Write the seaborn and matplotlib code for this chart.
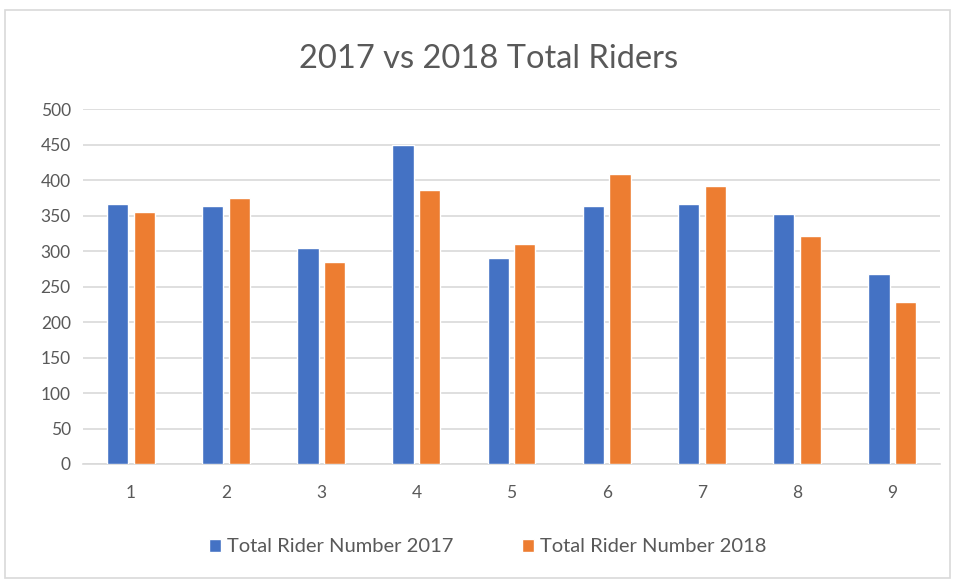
import pandas as pd
import seaborn as sns
import matplotlib.pyplot as plt
from matplotlib.patches import Rectangle

# values
groups = ['1', '2', '3', '4', '5', '6', '7', '8', '9']
riders_2017 = [366, 363, 304, 450, 290, 363, 366, 352, 268]
riders_2018 = [355, 375, 284, 386, 310, 409, 391, 321, 228]
series = ['Total Rider Number 2017', 'Total Rider Number 2018']

df = pd.DataFrame({
    'group': groups * 2,
    'riders': riders_2017 + riders_2018,
    'series': [series[0]] * len(groups) + [series[1]] * len(groups),
})

sns.set_style('white')
plt.rcParams['font.family'] = ['Lato', 'DejaVu Sans']
text_col = '#595959'
grid_col = '#D9D9D9'

fig = plt.figure(figsize=(9.57, 5.8), dpi=100)
ax = fig.add_axes([0.087, 0.2, 0.895, 0.612])

sns.barplot(data=df, x='group', y='riders', hue='series', order=groups,
            palette=['#4472C4', '#ED7D31'], saturation=1, width=0.56, gap=0.2,
            ax=ax, zorder=3)

ax.set_ylim(0, 500)
ax.set_yticks(range(0, 501, 50))
ax.yaxis.grid(True, color=grid_col, linewidth=1.2, zorder=0)
ax.set_axisbelow(True)
for s in ['top', 'right', 'left']:
    ax.spines[s].set_visible(False)
ax.spines['bottom'].set_color(grid_col)
ax.spines['bottom'].set_linewidth(1.2)
ax.tick_params(axis='both', length=0, labelsize=12.5, labelcolor=text_col)
ax.tick_params(axis='x', pad=15)
ax.tick_params(axis='y', pad=9)
ax.set_xlabel('')
ax.set_ylabel('')

fig.suptitle('2017 vs 2018 Total Riders', x=0.51, y=0.925, fontsize=23.5,
             color=text_col)

handles, labels = ax.get_legend_handles_labels()
ax.get_legend().remove()
fig.legend(handles, labels, loc='center', bbox_to_anchor=(0.51, 0.057),
           ncol=2, frameon=False, fontsize=14.5, labelcolor=text_col,
           handlelength=0.6, handleheight=0.6, handletextpad=0.3,
           columnspacing=3.4)

fig.patches.append(Rectangle((0.005, 0.004), 0.988, 0.979,
                             transform=fig.transFigure, fill=False,
                             edgecolor=grid_col, linewidth=1.2))

plt.savefig('out.png', dpi=100)
